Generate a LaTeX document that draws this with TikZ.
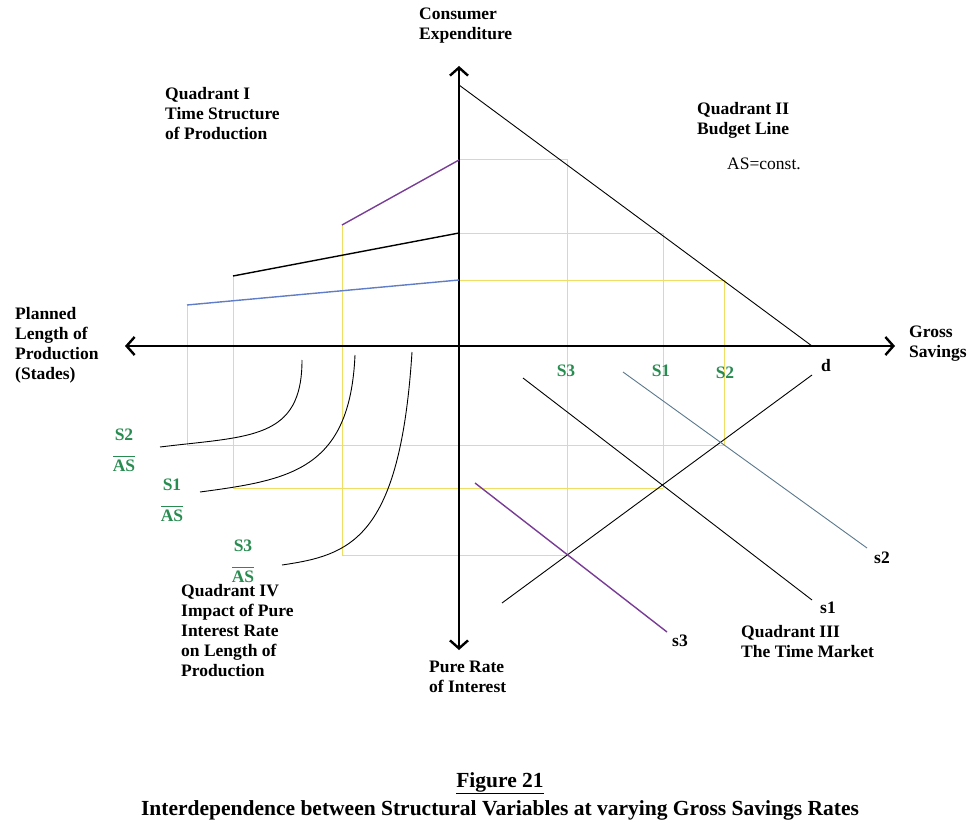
\documentclass[tikz,border=0pt]{standalone}
\usepackage{fontspec}
\setmainfont{Liberation Serif}
\usetikzlibrary{arrows.meta}

\definecolor{guide}{RGB}{238,222,100}
\definecolor{savgreen}{RGB}{40,140,80}
\definecolor{lineblue}{RGB}{95,125,200}
\definecolor{linepurple}{RGB}{120,60,150}
\definecolor{linegray}{RGB}{90,120,140}

\tikzset{
    lbl/.style = {font=\bfseries\fontsize{17.5}{20}\selectfont, align=left, inner sep=1pt},
    glbl/.style = {lbl, text=savgreen},
    axis/.style = {line width=2.4pt, -{Straight Barb[length=8pt,width=18pt]}},
    guideline/.style = {guide, line width=1pt},
    curve/.style = {black, line width=0.9pt}
}

\begin{document}
\begin{tikzpicture}[x=1pt, y=-1pt]
    \useasboundingbox (0,0) rectangle (980,840);

    % guide lines
    \draw[guideline] (459,160) -- (567,160) -- (567,555);
    \draw[guideline] (459,233) -- (663,233) -- (663,488);
    \draw[guideline] (459,280) -- (724,280) -- (724,445);
    \draw[guideline] (187,305) -- (187,445) -- (724,445);
    \draw[guideline] (233,276) -- (233,488) -- (663,488);
    \draw[guideline] (342,225) -- (342,555) -- (567,555);

    % axes
    \coordinate (o) at (459,346);
    \draw[axis] (o) -- (895,346);
    \draw[axis] (o) -- (125,346);
    \draw[axis] (o) -- (459,66);
    \draw[axis] (o) -- (459,650);

    % quadrant II: budget line
    \draw[line width=0.9pt] (459,85) -- (812,346);

    % quadrant I
    \draw[linepurple, line width=1.4pt] (342,225) -- (459,160);
    \draw[line width=1.4pt] (233,276) -- (459,233);
    \draw[lineblue, line width=1.4pt] (187,305) -- (459,280);

    % quadrant III
    \draw[line width=0.9pt] (502,603) -- (812,375);
    \draw[linegray, line width=0.9pt] (623,372) -- (867,548);
    \draw[line width=0.9pt] (523,378) -- (812,600);
    \draw[linepurple, line width=1.4pt] (475,483) -- (667,632);

    % quadrant IV
    \draw[curve] (302,360) .. controls (302,440) and (250,436) .. (160,447);
    \draw[curve] (355,355) .. controls (350,470) and (290,480) .. (200,492);
    \draw[curve] (412,352) .. controls (400,540) and (350,555) .. (282,565);

    % labels
    \node[lbl, anchor=north west] (ce) at (418,7) {Consumer\\Expenditure};
    \node[lbl, anchor=north west] (q1) at (164,86) {Quadrant I\\Time Structure\\of Production};
    \node[lbl, anchor=north west] (q2) at (696,101) {Quadrant II\\Budget Line};
    \node[lbl, anchor=north west] (as) at (726,157) {\mdseries AS=const.};
    \node[lbl, anchor=north west] (pl) at (14,306) {Planned\\Length of\\Production\\(Stades)};
    \node[lbl, anchor=north west] (gs) at (908,325) {Gross\\Savings};
    \node[glbl] (s3) at (566,371) {S3};
    \node[glbl] (s1) at (661,371) {S1};
    \node[glbl] (s2) at (725,373) {S2};
    \node[lbl] (d) at (826,366) {d};
    \node[lbl] (ls2) at (882,558) {s2};
    \node[lbl] (ls1) at (828,608) {s1};
    \node[lbl] (ls3) at (680,641) {s3};
    \node[glbl, align=center] (f2) at (124,450) {S2\\[-3pt]\rule{22pt}{0.8pt}\\[-6pt]AS};
    \node[glbl, align=center] (f1) at (172,500) {S1\\[-3pt]\rule{22pt}{0.8pt}\\[-6pt]AS};
    \node[glbl, align=center] (f3) at (243,561) {S3\\[-3pt]\rule{22pt}{0.8pt}\\[-6pt]AS};
    \node[lbl, anchor=north west] (q4) at (180,583) {Quadrant IV\\Impact of Pure\\Interest Rate\\on Length of\\Production};
    \node[lbl, anchor=north west] (pr) at (428,660) {Pure Rate\\of Interest};
    \node[lbl, anchor=north west] (q3) at (740,624) {Quadrant III\\The Time Market};
    \node[lbl, font=\bfseries\fontsize{21.5}{24}\selectfont] (fig) at (500,783) {\underline{Figure 21}};
    \node[lbl, font=\bfseries\fontsize{21.5}{24}\selectfont] (cap) at (500,810) {Interdependence between Structural Variables at varying Gross Savings Rates};
\end{tikzpicture}
\end{document}
